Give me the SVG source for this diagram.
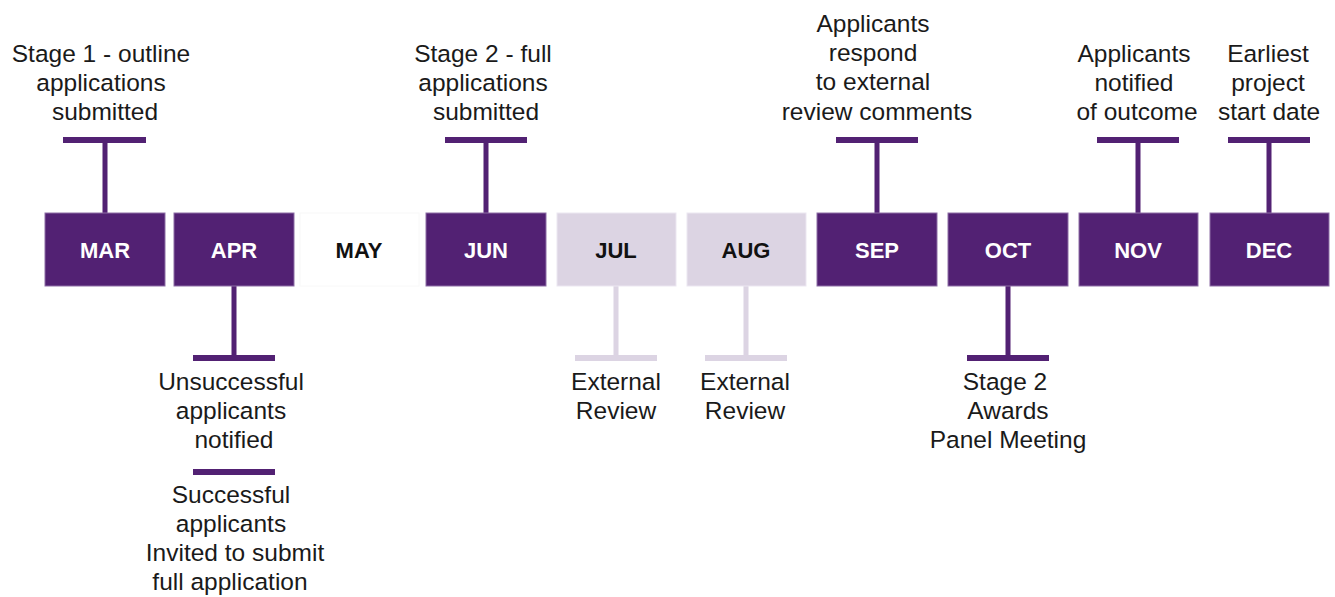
<svg xmlns="http://www.w3.org/2000/svg" width="1335" height="597" viewBox="0 0 1335 597">
  <style>
    .box { fill: #522173; stroke: #8d6fa6; stroke-width: 1; }
    .box-light { fill: #dcd4e3; stroke: #ece7f1; stroke-width: 1; }
    .box-blank { fill: #ffffff; stroke: #f8f8f8; stroke-width: 1; }
    .month { font-family: "Liberation Sans", Arial, sans-serif; font-size: 22px; font-weight: bold; text-anchor: middle; }
    .month-on { fill: #ffffff; }
    .month-off { fill: #111111; }
    .label { font-family: "Liberation Sans", Arial, sans-serif; font-size: 24.5px; fill: #1a1a1a; text-anchor: middle; }
    .dark { fill: #522173; }
    .light { fill: #dcd4e3; }
  </style>

  <!-- T-shaped connectors -->
  <g id="connectors">
    <!-- MAR -->
    <rect class="dark" x="102.5" y="137" width="5" height="76"/>
    <rect class="dark" x="63" y="137" width="83" height="6"/>
    <!-- APR -->
    <rect class="dark" x="231.5" y="286" width="5" height="72"/>
    <rect class="dark" x="193" y="355" width="82" height="6"/>
    <rect class="dark" x="193" y="469" width="82" height="6"/>
    <!-- JUN -->
    <rect class="dark" x="483.5" y="137" width="5" height="76"/>
    <rect class="dark" x="445" y="137" width="82" height="6"/>
    <!-- JUL -->
    <rect class="light" x="613.5" y="286" width="5" height="72"/>
    <rect class="light" x="575" y="355" width="82" height="6"/>
    <!-- AUG -->
    <rect class="light" x="743.5" y="286" width="5" height="72"/>
    <rect class="light" x="705" y="355" width="82" height="6"/>
    <!-- SEP -->
    <rect class="dark" x="874.5" y="137" width="5" height="76"/>
    <rect class="dark" x="836" y="137" width="82" height="6"/>
    <!-- OCT -->
    <rect class="dark" x="1005.5" y="286" width="5" height="72"/>
    <rect class="dark" x="967" y="355" width="82" height="6"/>
    <!-- NOV -->
    <rect class="dark" x="1135.5" y="137" width="5" height="76"/>
    <rect class="dark" x="1097" y="137" width="82" height="6"/>
    <!-- DEC -->
    <rect class="dark" x="1266.5" y="137" width="5" height="76"/>
    <rect class="dark" x="1228" y="137" width="82" height="6"/>
  </g>

  <g id="mar">
    <rect class="box" x="45" y="213" width="120" height="73"/>
    <text class="month month-on" x="105" y="258">MAR</text>
    <text class="label" x="101" y="62">Stage 1 - outline</text>
    <text class="label" x="101" y="91">applications</text>
    <text class="label" x="105" y="120">submitted</text>
  </g>

  <g id="apr">
    <rect class="box" x="174" y="213" width="120" height="73"/>
    <text class="month month-on" x="234" y="258">APR</text>
    <text class="label" x="231" y="390">Unsuccessful</text>
    <text class="label" x="231" y="419">applicants</text>
    <text class="label" x="234" y="448">notified</text>
    <text class="label" x="231" y="503">Successful</text>
    <text class="label" x="231" y="532">applicants</text>
    <text class="label" x="235" y="561">Invited to submit</text>
    <text class="label" x="230" y="590">full application</text>
  </g>

  <g id="may">
    <rect class="box-blank" x="300" y="213" width="119" height="73"/>
    <text class="month month-off" x="359" y="258">MAY</text>
  </g>

  <g id="jun">
    <rect class="box" x="426" y="213" width="120" height="73"/>
    <text class="month month-on" x="486" y="258">JUN</text>
    <text class="label" x="483" y="62">Stage 2 - full</text>
    <text class="label" x="483" y="91">applications</text>
    <text class="label" x="486" y="120">submitted</text>
  </g>

  <g id="jul">
    <rect class="box-light" x="557" y="213" width="119" height="73"/>
    <text class="month month-off" x="616" y="258">JUL</text>
    <text class="label" x="616" y="390">External</text>
    <text class="label" x="616" y="419">Review</text>
  </g>

  <g id="aug">
    <rect class="box-light" x="687" y="213" width="119" height="73"/>
    <text class="month month-off" x="746" y="258">AUG</text>
    <text class="label" x="745" y="390">External</text>
    <text class="label" x="745" y="419">Review</text>
  </g>

  <g id="sep">
    <rect class="box" x="817" y="213" width="120" height="73"/>
    <text class="month month-on" x="877" y="258">SEP</text>
    <text class="label" x="873" y="32">Applicants</text>
    <text class="label" x="873" y="61">respond</text>
    <text class="label" x="873" y="90">to external</text>
    <text class="label" x="877" y="120">review comments</text>
  </g>

  <g id="oct">
    <rect class="box" x="948" y="213" width="120" height="73"/>
    <text class="month month-on" x="1008" y="258">OCT</text>
    <text class="label" x="1005" y="390">Stage 2</text>
    <text class="label" x="1008" y="419">Awards</text>
    <text class="label" x="1008" y="448">Panel Meeting</text>
  </g>

  <g id="nov">
    <rect class="box" x="1079" y="213" width="119" height="73"/>
    <text class="month month-on" x="1138" y="258">NOV</text>
    <text class="label" x="1134" y="62">Applicants</text>
    <text class="label" x="1134" y="91">notified</text>
    <text class="label" x="1137" y="120">of outcome</text>
  </g>

  <g id="dec">
    <rect class="box" x="1210" y="213" width="119" height="73"/>
    <text class="month month-on" x="1269" y="258">DEC</text>
    <text class="label" x="1268" y="62">Earliest</text>
    <text class="label" x="1268" y="91">project</text>
    <text class="label" x="1269" y="120">start date</text>
  </g>
</svg>
